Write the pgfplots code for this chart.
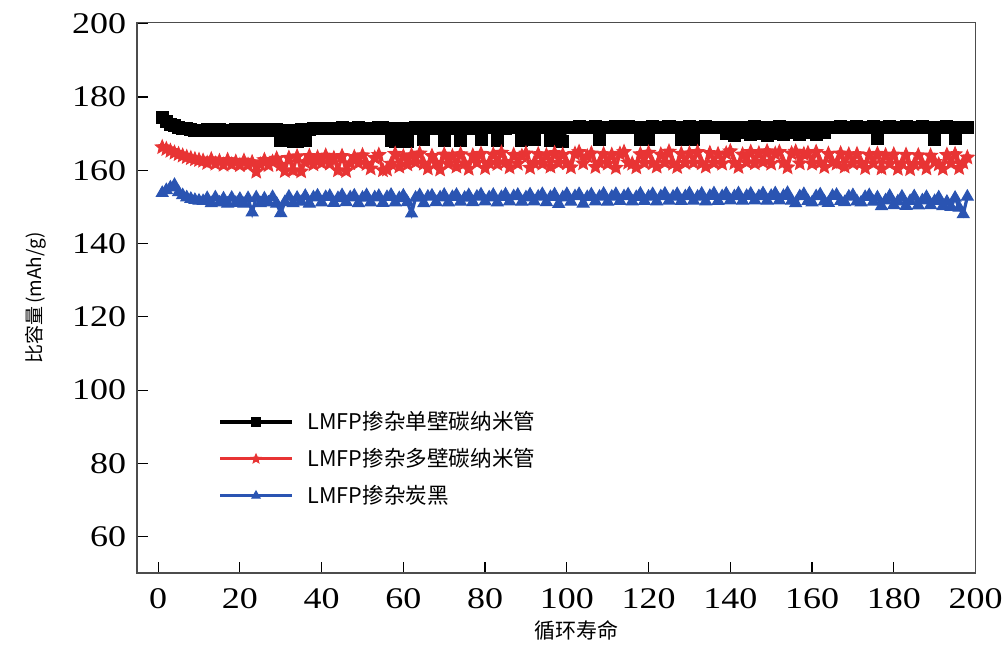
\documentclass[border=0pt]{standalone}
\usepackage{pgfplots}
\pgfplotsset{compat=1.18}
\usepackage{pgfplotstable}
\usepackage{fontspec}
\setmainfont{Liberation Serif}
\newfontfamily\cjk{Noto Sans CJK SC}
\newfontfamily\tickfont[FakeStretch=1.2]{Liberation Serif}
\usetikzlibrary{plotmarks}
\definecolor{myred}{RGB}{232,52,52}
\definecolor{myblue}{RGB}{42,84,178}

\pgfdeclareplotmark{fstar}{%
  \pgfpathmoveto{\pgfpointpolar{90}{\pgfplotmarksize}}%
  \pgfpathlineto{\pgfpointpolar{126}{0.45\pgfplotmarksize}}%
  \pgfpathlineto{\pgfpointpolar{162}{\pgfplotmarksize}}%
  \pgfpathlineto{\pgfpointpolar{198}{0.45\pgfplotmarksize}}%
  \pgfpathlineto{\pgfpointpolar{234}{\pgfplotmarksize}}%
  \pgfpathlineto{\pgfpointpolar{270}{0.45\pgfplotmarksize}}%
  \pgfpathlineto{\pgfpointpolar{306}{\pgfplotmarksize}}%
  \pgfpathlineto{\pgfpointpolar{342}{0.45\pgfplotmarksize}}%
  \pgfpathlineto{\pgfpointpolar{18}{\pgfplotmarksize}}%
  \pgfpathlineto{\pgfpointpolar{54}{0.45\pgfplotmarksize}}%
  \pgfpathclose
  \pgfusepathqfillstroke}

\pgfplotstableread[row sep=\\]{
x y\\
1 174.5\\ 2 173.2\\ 3 172.6\\ 4 172.1\\ 5 171.8\\ 6 171.5\\ 7 171.3\\ 8 171.2\\ 9 171.0\\ 10 171.0\\
11 171.0\\ 12 171.2\\ 13 170.9\\ 14 171.0\\ 15 171.1\\ 16 171.0\\ 17 170.8\\ 18 171.0\\ 19 171.2\\ 20 171.0\\
21 171.1\\ 22 171.0\\ 23 170.9\\ 24 171.1\\ 25 171.0\\ 26 171.2\\ 27 171.0\\ 28 170.9\\ 29 171.1\\ 30 168.2\\
31 168.5\\ 32 171.0\\ 33 168.0\\ 34 167.8\\ 35 171.1\\ 36 168.2\\ 37 171.2\\ 38 171.3\\ 39 171.5\\ 40 171.4\\
41 171.3\\ 42 171.5\\ 43 171.4\\ 44 171.5\\ 45 171.6\\ 46 171.5\\ 47 171.4\\ 48 171.5\\ 49 171.6\\ 50 171.5\\
51 171.5\\ 52 171.4\\ 53 171.5\\ 54 171.6\\ 55 171.7\\ 56 171.5\\ 57 168.2\\ 58 167.8\\ 59 171.4\\ 60 168.0\\
61 167.9\\ 62 171.5\\ 63 171.6\\ 64 171.5\\ 65 168.3\\ 66 171.6\\ 67 171.5\\ 68 171.7\\ 69 171.6\\ 70 168.2\\
71 171.7\\ 72 171.6\\ 73 171.5\\ 74 168.1\\ 75 171.6\\ 76 171.7\\ 77 171.5\\ 78 171.6\\ 79 168.3\\ 80 171.7\\
81 171.6\\ 82 171.7\\ 83 168.2\\ 84 171.6\\ 85 171.5\\ 86 171.7\\ 87 171.8\\ 88 171.6\\ 89 168.2\\ 90 171.7\\
91 171.6\\ 92 168.3\\ 93 171.7\\ 94 171.8\\ 95 171.6\\ 96 168.2\\ 97 171.7\\ 98 168.5\\ 99 168.0\\ 100 171.6\\
101 171.8\\ 102 171.7\\ 103 171.9\\ 104 171.8\\ 105 171.7\\ 106 171.8\\ 107 171.9\\ 108 168.4\\ 109 171.8\\ 110 171.7\\
111 171.8\\ 112 171.9\\ 113 171.7\\ 114 171.8\\ 115 171.9\\ 116 171.8\\ 117 171.7\\ 118 168.3\\ 119 171.8\\ 120 168.4\\
121 171.9\\ 122 171.8\\ 123 171.7\\ 124 171.8\\ 125 171.9\\ 126 171.8\\ 127 171.7\\ 128 168.5\\ 129 171.8\\ 130 171.9\\
131 168.4\\ 132 171.8\\ 133 171.7\\ 134 171.9\\ 135 171.8\\ 136 171.7\\ 137 171.8\\ 138 171.6\\ 139 170.0\\ 140 171.8\\
141 169.5\\ 142 171.7\\ 143 170.2\\ 144 171.8\\ 145 169.8\\ 146 171.9\\ 147 170.0\\ 148 171.7\\ 149 169.6\\ 150 171.8\\
151 170.1\\ 152 171.9\\ 153 169.8\\ 154 171.7\\ 155 170.3\\ 156 171.8\\ 157 169.9\\ 158 171.6\\ 159 170.2\\ 160 171.8\\
161 169.8\\ 162 171.7\\ 163 170.4\\ 164 171.6\\ 165 171.8\\ 166 171.7\\ 167 171.9\\ 168 171.8\\ 169 171.7\\ 170 171.8\\
171 171.9\\ 172 171.8\\ 173 171.7\\ 174 171.8\\ 175 171.9\\ 176 168.6\\ 177 171.8\\ 178 171.7\\ 179 171.9\\ 180 171.8\\
181 171.7\\ 182 171.8\\ 183 171.9\\ 184 171.8\\ 185 171.7\\ 186 171.8\\ 187 171.9\\ 188 171.8\\ 189 171.7\\ 190 168.5\\
191 171.8\\ 192 171.7\\ 193 171.9\\ 194 171.8\\ 195 168.6\\ 196 171.7\\ 197 171.8\\ 198 171.6\\
}\blackdata

\pgfplotstableread[row sep=\\]{
x y\\
1 166.3\\ 2 165.8\\ 3 165.3\\ 4 164.8\\ 5 164.4\\ 6 164.0\\ 7 163.6\\ 8 163.3\\ 9 163.0\\ 10 162.8\\
11 162.6\\ 12 162.0\\ 13 163.0\\ 14 161.8\\ 15 162.5\\ 16 161.5\\ 17 162.8\\ 18 161.6\\ 19 162.3\\ 20 161.4\\
21 162.6\\ 22 161.5\\ 23 162.2\\ 24 159.6\\ 25 161.6\\ 26 162.8\\ 27 161.4\\ 28 162.3\\ 29 163.2\\ 30 161.5\\
31 159.8\\ 32 163.4\\ 33 160.0\\ 34 163.8\\ 35 159.7\\ 36 162.2\\ 37 163.9\\ 38 161.6\\ 39 163.5\\ 40 162.0\\
41 164.0\\ 42 161.8\\ 43 163.3\\ 44 160.0\\ 45 163.9\\ 46 159.8\\ 47 161.9\\ 48 163.6\\ 49 162.0\\ 50 164.1\\
51 161.7\\ 52 160.5\\ 53 163.4\\ 54 164.2\\ 55 160.0\\ 56 160.2\\ 57 161.8\\ 58 164.5\\ 59 161.0\\ 60 163.8\\
61 161.6\\ 62 164.1\\ 63 162.2\\ 64 164.6\\ 65 161.8\\ 66 160.5\\ 67 163.9\\ 68 162.0\\ 69 160.2\\ 70 164.3\\
71 161.8\\ 72 163.8\\ 73 161.0\\ 74 164.4\\ 75 161.9\\ 76 160.4\\ 77 164.0\\ 78 162.1\\ 79 164.5\\ 80 160.6\\
81 162.0\\ 82 164.3\\ 83 161.7\\ 84 164.8\\ 85 162.2\\ 86 160.8\\ 87 164.2\\ 88 161.8\\ 89 163.9\\ 90 164.6\\
91 160.7\\ 92 162.0\\ 93 164.4\\ 94 161.8\\ 95 164.1\\ 96 161.0\\ 97 164.7\\ 98 162.0\\ 99 164.2\\ 100 161.9\\
101 160.8\\ 102 164.5\\ 103 165.0\\ 104 161.9\\ 105 163.8\\ 106 164.6\\ 107 160.9\\ 108 162.1\\ 109 164.4\\ 110 161.8\\
111 164.2\\ 112 160.7\\ 113 164.5\\ 114 165.0\\ 115 162.1\\ 116 161.8\\ 117 160.8\\ 118 164.4\\ 119 162.0\\ 120 164.8\\
121 161.9\\ 122 161.0\\ 123 164.3\\ 124 162.1\\ 125 165.1\\ 126 161.8\\ 127 160.9\\ 128 164.5\\ 129 162.0\\ 130 164.6\\
131 162.1\\ 132 165.0\\ 133 161.9\\ 134 161.0\\ 135 164.7\\ 136 162.0\\ 137 164.4\\ 138 161.8\\ 139 164.6\\ 140 165.2\\
141 162.0\\ 142 160.9\\ 143 164.3\\ 144 162.2\\ 145 165.0\\ 146 161.9\\ 147 164.6\\ 148 162.3\\ 149 165.2\\ 150 161.8\\
151 164.5\\ 152 165.0\\ 153 162.1\\ 154 160.8\\ 155 164.6\\ 156 165.1\\ 157 161.9\\ 158 164.4\\ 159 164.7\\ 160 161.8\\
161 165.0\\ 162 162.1\\ 163 160.9\\ 164 164.5\\ 165 162.2\\ 166 161.8\\ 167 164.6\\ 168 161.0\\ 169 164.3\\ 170 161.9\\
171 164.4\\ 172 162.0\\ 173 160.6\\ 174 164.2\\ 175 161.9\\ 176 164.5\\ 177 160.5\\ 178 164.1\\ 179 161.8\\ 180 164.3\\
181 160.4\\ 182 161.9\\ 183 164.2\\ 184 160.3\\ 185 161.7\\ 186 164.1\\ 187 161.8\\ 188 160.5\\ 189 164.0\\ 190 162.3\\
191 161.6\\ 192 160.4\\ 193 164.2\\ 194 161.9\\ 195 164.4\\ 196 160.6\\ 197 162.1\\ 198 163.5\\
}\reddata

\pgfplotstableread[row sep=\\]{
x y\\
1 153.8\\ 2 154.6\\ 3 155.3\\ 4 156.0\\ 5 154.0\\ 6 153.2\\ 7 152.6\\ 8 152.2\\ 9 151.9\\ 10 151.7\\
11 151.6\\ 12 152.4\\ 13 151.0\\ 14 152.6\\ 15 151.2\\ 16 152.3\\ 17 150.9\\ 18 152.5\\ 19 151.1\\ 20 152.2\\
21 150.9\\ 22 152.4\\ 23 148.5\\ 24 152.6\\ 25 151.0\\ 26 152.3\\ 27 151.2\\ 28 152.7\\ 29 150.9\\ 30 148.3\\
31 151.3\\ 32 152.8\\ 33 151.0\\ 34 152.5\\ 35 151.4\\ 36 153.0\\ 37 150.9\\ 38 152.6\\ 39 153.1\\ 40 151.2\\
41 152.7\\ 42 153.0\\ 43 151.1\\ 44 152.4\\ 45 153.2\\ 46 151.3\\ 47 152.6\\ 48 153.1\\ 49 151.0\\ 50 152.5\\
51 153.2\\ 52 151.2\\ 53 152.6\\ 54 153.0\\ 55 151.1\\ 56 152.7\\ 57 153.3\\ 58 151.2\\ 59 152.4\\ 60 153.1\\
61 151.3\\ 62 148.2\\ 63 152.5\\ 64 153.2\\ 65 151.0\\ 66 152.8\\ 67 153.1\\ 68 151.3\\ 69 152.6\\ 70 153.3\\
71 151.2\\ 72 152.7\\ 73 153.3\\ 74 151.4\\ 75 152.5\\ 76 153.2\\ 77 151.3\\ 78 152.8\\ 79 153.4\\ 80 151.5\\
81 152.6\\ 82 153.3\\ 83 151.2\\ 84 152.7\\ 85 153.4\\ 86 151.5\\ 87 152.9\\ 88 153.3\\ 89 151.4\\ 90 152.6\\
91 153.4\\ 92 151.5\\ 93 152.8\\ 94 153.5\\ 95 151.3\\ 96 152.7\\ 97 153.4\\ 98 150.8\\ 99 152.6\\ 100 153.5\\
101 151.4\\ 102 152.9\\ 103 153.5\\ 104 150.9\\ 105 152.7\\ 106 153.4\\ 107 151.5\\ 108 152.8\\ 109 153.6\\ 110 151.4\\
111 152.8\\ 112 153.5\\ 113 151.6\\ 114 152.9\\ 115 153.4\\ 116 151.5\\ 117 152.7\\ 118 153.6\\ 119 151.6\\ 120 152.8\\
121 153.5\\ 122 151.5\\ 123 152.9\\ 124 153.6\\ 125 151.7\\ 126 152.8\\ 127 153.5\\ 128 151.6\\ 129 152.9\\ 130 153.7\\
131 151.7\\ 132 152.8\\ 133 153.6\\ 134 151.5\\ 135 153.0\\ 136 153.7\\ 137 151.6\\ 138 152.9\\ 139 153.6\\ 140 151.8\\
141 152.9\\ 142 153.7\\ 143 151.7\\ 144 153.0\\ 145 153.6\\ 146 151.8\\ 147 152.9\\ 148 153.7\\ 149 151.7\\ 150 153.0\\
151 153.7\\ 152 151.8\\ 153 153.0\\ 154 153.8\\ 155 151.7\\ 156 151.0\\ 157 152.9\\ 158 153.5\\ 159 151.6\\ 160 151.2\\
161 152.9\\ 162 153.4\\ 163 151.5\\ 164 151.1\\ 165 153.0\\ 166 153.3\\ 167 151.6\\ 168 151.3\\ 169 152.8\\ 170 153.2\\
171 151.5\\ 172 151.2\\ 173 152.7\\ 174 153.2\\ 175 151.4\\ 176 152.6\\ 177 150.2\\ 178 151.8\\ 179 153.0\\ 180 150.5\\
181 151.5\\ 182 152.8\\ 183 150.3\\ 184 151.6\\ 185 152.9\\ 186 150.4\\ 187 151.8\\ 188 152.7\\ 189 150.5\\ 190 151.6\\
191 152.6\\ 192 150.2\\ 193 151.4\\ 194 150.0\\ 195 152.5\\ 196 149.8\\ 197 148.0\\ 198 152.8\\
}\bluedata

\begin{document}
\begin{tikzpicture}
\begin{axis}[
  scale only axis,
  width=419.1pt, height=275.3pt,
  xmin=-5.1, xmax=200, ymin=50, ymax=200.3,
  xtick={0,20,...,200}, ytick={60,80,...,200},
  tick align=inside,
  xtick pos=bottom, ytick pos=left,
  major tick length=5.5pt,
  tick style={black, line width=0.6pt},
  axis line style={black!70, line width=0.8pt},
  /pgf/number format/assume math mode=true,
  ticklabel style={font=\tickfont\fontsize{15pt}{15pt}\selectfont},
  xticklabel style={yshift=-4pt},
  yticklabel style={xshift=-2pt},
  xlabel={\cjk 循环寿命},
  ylabel={\cjk 比容量\,(mAh/g)},
  xlabel style={font=\cjk\fontsize{10.5pt}{12pt}\selectfont, yshift=1pt, xshift=10pt},
  ylabel style={font=\cjk\fontsize{9.5pt}{12pt}\selectfont, yshift=6pt},
  legend cell align=left,
  legend style={draw=none, fill=none, at={(0.0963,0.302)}, anchor=north west,
    font=\cjk\fontsize{10.8pt}{13pt}\selectfont, row sep=3.8pt, column sep=5pt, inner sep=0pt},
  legend image code/.code={\draw[mark repeat=2,mark phase=2,#1,mark size=2.4pt] plot coordinates {(0pt,0pt)(18pt,0pt)(36pt,0pt)};},
]
\addplot[black, line width=1.6pt, mark=square*, mark size=3pt, mark options={solid, line width=0.5pt}] table[x=x,y=y] {\blackdata};
\addlegendentry{LMFP掺杂单壁碳纳米管}
\addplot[myred, line width=1.6pt, mark=fstar, mark size=3.6pt, mark options={solid, line width=0.5pt}] table[x=x,y=y] {\reddata};
\addlegendentry{LMFP掺杂多壁碳纳米管}
\addplot[myblue, line width=1.6pt, mark=triangle*, mark size=3.4pt, mark options={solid, line width=0.5pt}] table[x=x,y=y] {\bluedata};
\addlegendentry{LMFP掺杂炭黑}
\end{axis}
\pgfresetboundingbox
\path ([shift={(-68.65pt,-35.85pt)}]current axis.south west) rectangle ([shift={(15.75pt,11.35pt)}]current axis.north east);
\end{tikzpicture}
\end{document}
